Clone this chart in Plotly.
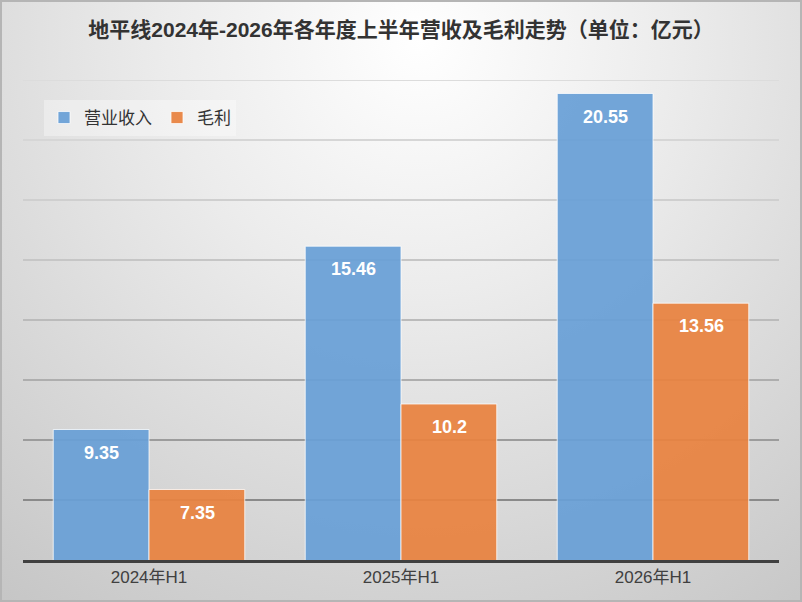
import base64
import plotly.graph_objects as go

# data
periods = ["2024年H1", "2025年H1", "2026年H1"]
revenue = [9.35, 15.46, 20.55]
gross_profit = [7.35, 10.2, 13.56]
series_names = ["营业收入", "毛利"]
grid_values = [7, 9, 11, 13, 15, 17, 19, 21]

W, H = 802, 602
L, R, T, B = 23, 23, 80, 42
plot_w = W - L - R
plot_h = H - T - B

FONT = "Liberation Sans, Arial, Noto Sans CJK SC, sans-serif"

# soft radial background like the office-style chart
svg = f"""<svg xmlns='http://www.w3.org/2000/svg' width='{W}' height='{H}'>
<defs><radialGradient id='g' gradientUnits='userSpaceOnUse' cx='420' cy='40' r='720'>
<stop offset='0' stop-color='#ffffff'/><stop offset='0.35' stop-color='#ececec'/>
<stop offset='1' stop-color='#c4c4c4'/></radialGradient></defs>
<rect width='{W}' height='{H}' fill='url(#g)'/>
<rect x='1' y='1' width='{W - 2}' height='{H - 2}' fill='none' stroke='#b5b5b5' stroke-width='2'/>
</svg>"""
bg_src = "data:image/svg+xml;base64," + base64.b64encode(svg.encode()).decode()

fig = go.Figure()
fig.add_trace(go.Bar(
    x=periods, y=revenue, name=series_names[0],
    marker=dict(color="rgba(104,159,214,0.93)", line=dict(color="rgba(255,255,255,0.75)", width=1)),
))
fig.add_trace(go.Bar(
    x=periods, y=gross_profit, name=series_names[1],
    marker=dict(color="rgba(232,130,63,0.93)", line=dict(color="rgba(255,255,255,0.75)", width=1)),
))

# gridlines get darker toward the bottom
grid_colors = ["#dcdcdc", "#d6d6d6", "#cfcfcf", "#c6c6c6", "#bbbbbb", "#aeaeae", "#9c9c9c", "#8a8a8a"]
shapes = []
for v, c in zip(grid_values, reversed(grid_colors)):
    shapes.append(dict(type="line", xref="paper", yref="y", x0=0, x1=1, y0=v, y1=v,
                       line=dict(color=c, width=2), layer="below"))

annotations = []
for vals, shift in ((revenue, -48), (gross_profit, 48)):
    for p, v in zip(periods, vals):
        annotations.append(dict(x=p, y=v, text=f"<b>{v:g}</b>", showarrow=False,
                                xshift=shift, yshift=-23,
                                font=dict(family=FONT, size=18, color="white")))

fig.update_layout(
    width=W, height=H,
    margin=dict(l=L, r=R, t=T, b=B),
    paper_bgcolor="#dddddd", plot_bgcolor="rgba(0,0,0,0)",
    images=[dict(source=bg_src, xref="paper", yref="paper",
                 x=-L / plot_w, y=1 + T / plot_h, sizex=W / plot_w, sizey=H / plot_h,
                 xanchor="left", yanchor="top", sizing="stretch", layer="below")],
    title=dict(text="<b>地平线2024年-2026年各年度上半年营收及毛利走势（单位：亿元）</b>",
               x=0.5, xanchor="center", y=1 - 30 / H, yanchor="middle",
               font=dict(family=FONT, size=21, color="#333333")),
    barmode="group", bargap=0.24, bargroupgap=0,
    legend=dict(orientation="h", x=(44 - L) / plot_w, y=(plot_h - (118 - T)) / plot_h,
                xanchor="left", yanchor="middle", bgcolor="rgba(255,255,255,0.35)",
                font=dict(family=FONT, size=17, color="#333333"), itemwidth=30),
    xaxis=dict(showgrid=False, showline=True, linecolor="#404040", linewidth=3,
               tickfont=dict(family=FONT, size=17, color="#404040"), ticks=""),
    yaxis=dict(range=[5, 21], showgrid=False, showticklabels=False, zeroline=False),
    shapes=shapes,
    annotations=annotations,
    font=dict(family=FONT),
)

fig.write_html("out.html", config={"displayModeBar": False},
               post_script="document.body.style.margin='0';")
